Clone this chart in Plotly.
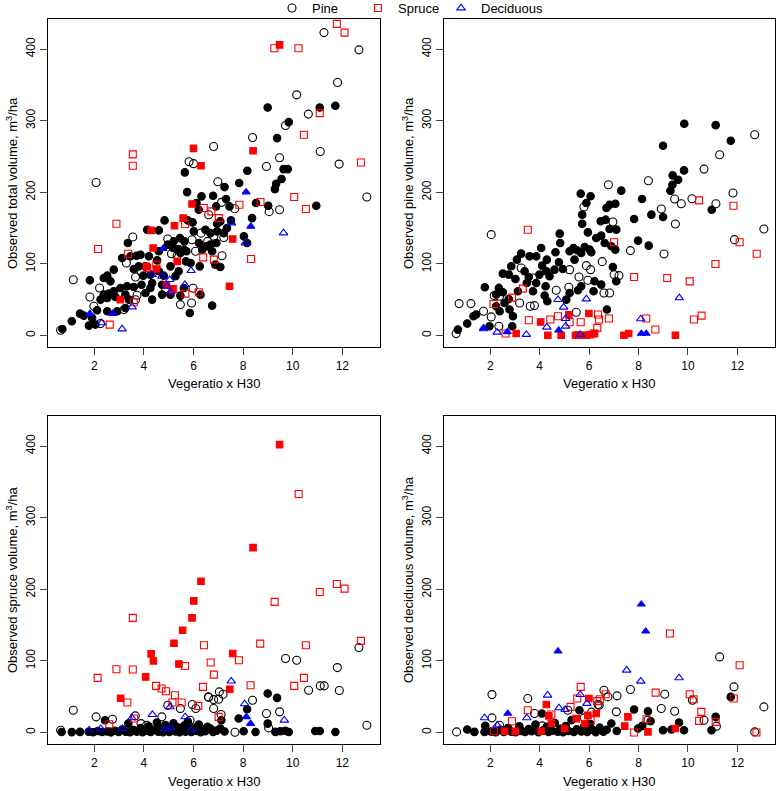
import plotly.graph_objects as go

# ---------------- DATA ----------------
# Top-left: observed total volume
tl_pine_filled = [(5.65,227.8),(7.25,207.3),(7.84,212.9),(5.74,200.3),(6.32,194.3),(6.79,195.2),(7.31,190.6),(6.12,185),(6.21,175.7),(6.91,180.3),(7.45,180.3),(8.52,185),(9.01,181.3),(8.36,164),(9.33,212),(4.83,160.8),(5.77,160.8),(5.96,158),(6.95,156),(7.35,150),(4.13,147.8),(4.6,146.9),(6.01,145.5),(6.48,147.8),(6.68,143),(6.95,145.5),(7.22,143),(5.45,136),(5.63,131.5),(6.22,129.2),(6.68,126.9),(6.92,129.2),(8.03,138.5),(8.16,129.2),(3.35,129.2),(3.86,112.9),(3.7,111.5),(3.12,108.3),(3.46,110.6),(4.2,110.6),(4.6,117.6),(4.96,126.9),(5.18,122.2),(5.4,120.8),(5.47,115.3),(5.71,117.6),(5.69,103.6),(5.88,101.3),(6.25,96.6),(6.75,117.6),(6.88,99),(7.08,95.7),(4.53,105),(4.06,96.6),(3.79,96.6),(2.78,92),(2.52,83.6),(2.38,80.4),(2.65,75.7),(1.82,77.1),(3.59,92.9),(3.97,83.6),(4.26,85),(4.6,89.7),(5.07,96.6),(5.4,89.7),(5.27,82.7),(4.8,83.6),(4.73,71),(4.33,73.4),(3.9,71),(3.59,67.8),(3.32,68.8),(3.05,66.4),(2.78,61.8),(2.58,58.5),(2.38,57.1),(2.25,50.2),(2.52,52.5),(2.85,53.9),(3.25,57.1),(3.39,50.2),(4.06,59.4),(4.33,50.2),(4.73,57.1),(5.07,57.1),(5.47,55.7),(6.28,57.1),(6.75,41.8),(5.85,31.5),(4.26,66.4),(2.11,35.3),(2.52,33.9),(2.92,33.9),(3.25,38.5),(1.91,24.6),(1.57,27.8),(1.78,13.9),(2.04,15.3),(5.61,66.4),(5.61,119.9),(5.2,131.5),(6.35,119.9),(6.52,124.5),(7.08,159.4),(7.51,160.8),(1.42,30.6),(1.09,19.9),(0.71,9.2),(8.99,318.5),(11.09,318.5),(11.72,320.8),(9.84,298),(9.37,275.7),(9.63,232.4),(9.8,232.4),(8.17,230.1),(9.55,218.5),(9.28,204.5),(10.95,181.3)]
tl_pine_open = [(2.07,213.8),(6.98,214.8),(7.13,186),(6.61,168.7),(7.66,177),(9.05,173),(3.55,137.6),(4.96,134.8),(5.94,133.8),(6.08,117.6),(6.3,143),(6.82,138.5),(7.22,137),(7.15,111.5),(3.29,101.3),(3.89,88.7),(3.66,81.8),(5.11,114.3),(5.34,111.5),(2.21,66.4),(1.82,53.9),(1.98,40.8),(3.72,56.2),(5.47,43.2),(5.92,45.5),(5.98,66),(4.87,65.5),(3.19,36.2),(3.66,50),(2.25,16.7),(6.57,131.5),(1.15,78),(0.64,7.4),(5.82,242.7),(6.0,240),(11.26,423),(12.67,398.9),(11.81,353.3),(10.16,336.1),(10.63,309.2),(9.71,293.3),(8.38,276.6),(6.81,264),(9.47,248.2),(11.11,257),(8.94,236),(11.87,239.4),(12.99,193.4),(9.47,175.7)]
tl_spruce_filled = [(5.94,183.6),(5.58,164),(5.23,153.4),(4.29,146.9),(4.37,122.2),(7.58,134.8),(5.34,103.6),(4.1,96.6),(4.5,92.9),(4.91,71),(7.45,68.8),(3.05,50.2),(5.14,64.1),(6.0,261.3),(6.3,237),(9.47,405.9),(8.4,258)]
tl_spruce_open = [(2.89,156.2),(2.15,120.8),(3.36,114.3),(6.41,178),(6.72,173.4),(7.02,164),(7.85,182.7),(8.7,186.4),(5.66,155.7),(6.39,109.2),(6.82,106),(8.32,106.9),(4.5,99),(4.13,94.3),(6.21,60.4),(5.67,58.5),(5.18,65),(3.59,46.4),(2.62,15.3),(3.55,253),(3.55,237),(11.78,435.2),(12.09,423),(9.26,401.2),(10.23,401.2),(11.09,310.5),(10.45,280.3),(12.75,241.7),(10.06,193.4),(10.53,176.6)]
tl_dec_filled = [(8.12,200.3),(8.31,152.4),(4.77,121.3),(2.74,30.6),(1.82,30.6)]
tl_dec_open = [(7.53,157.1),(8.09,129.2),(5.9,90.6),(4.33,85),(4.73,82.7),(5.04,78),(5.65,71),(4.93,68.8),(5.07,60.4),(3.52,39.9),(2.29,17.6),(3.12,9.2),(9.63,143.2)]

# Top-right: observed pine volume
tr_pine_filled = [(5.66,198.1),(6.06,194.4),(5.89,185),(6.7,178.1),(6.83,182.7),(7.06,184.1),(7.3,202.3),(8.14,190.6),(7.82,162.7),(8.52,168.8),(8.99,165.5),(5.72,168.8),(5.72,156.2),(6.47,159.5),(6.67,161.8),(6.83,148.8),(7.1,147.9),(5.95,144.1),(6.29,136.2),(6.49,139.5),(6.63,129.3),(6.9,124.6),(7.06,120),(7.98,132.5),(8.41,125.5),(4.81,142.3),(4.83,129.3),(5.37,122.3),(5.51,119),(5.21,117.6),(5.68,115.3),(5.82,123.7),(6.09,116.2),(4.06,122.3),(4.29,106),(4.64,116.2),(4.78,102.3),(4.94,93),(4.6,92),(4.4,82.8),(4.1,97.6),(3.99,85.1),(3.86,73.4),(4.24,68.8),(3.25,114.4),(3.59,110.6),(3.86,110.6),(3.08,106),(2.85,96.7),(2.51,86.5),(2.75,85.1),(3.02,79),(3.39,89.7),(3.56,81.8),(3.48,73.4),(3.12,61.8),(3.73,61.8),(4.2,55.8),(1.78,67.4),(2.35,66.5),(2.24,57.2),(2.51,60.4),(2.75,51.1),(2.58,45.5),(2.24,40.9),(2.38,33.9),(1.43,29.3),(1.32,27),(2.78,36.3),(2.92,27),(2.89,13),(1.97,13),(4.31,47.9),(5.08,50.2),(5.21,59.5),(5.55,63.2),(5.68,68.8),(6.22,75.8),(6.18,61.8),(6.49,71.1),(6.96,95.8),(7.1,75.8),(6.72,36.3),(6.02,120),(5.41,106),(4.27,89.7),(0.69,8.3),(1.07,16.7),(9.85,295.7),(11.12,293.8),(11.73,272),(8.99,265),(9.84,230.6),(9.38,223.6),(9.6,217.6),(9.37,210.6),(9.29,202.2),(10.96,175.7)]
tr_pine_open = [(6.78,210.6),(8.4,216.2),(8.92,176.7),(9.03,113.9),(7.67,118.6),(5.79,179.5),(6.96,158.5),(2.04,140.9),(3.25,94.4),(1.22,44.6),(1.73,33.9),(2.35,13),(2.04,26),(3.19,45.5),(3.62,40.9),(3.79,41.8),(4.67,63.2),(5.18,67.4),(5.48,32.5),(5.59,81.8),(5.89,97.6),(5.95,77.2),(6.53,103.2),(6.6,59.5),(6.83,59.5),(7.01,85.1),(7.21,83.7),(2.16,55.8),(2.38,54.8),(3.73,80.4),(5.21,92),(6.06,92),(0.62,2.7),(0.74,44.6),(12.7,280.3),(11.28,252.4),(10.65,232.4),(11.82,199),(9.46,190.6),(9.73,184.1),(10.16,191),(11.13,184.1),(9.49,155.7),(13.07,148.7),(11.88,133.9)]
tr_spruce_filled = [(3.05,2.8),(4.04,19),(4.33,0.4),(4.87,0.4),(5.18,28.8),(5.45,0.4),(5.55,0.6),(5.7,0.4),(5.89,0.4),(5.99,30.7),(6.05,1.2),(6.22,2.8),(7.41,0.4),(7.6,2.8),(9.49,0.4)]
tr_spruce_open = [(3.52,147.8),(7.01,130.2),(7.82,81.8),(9.16,80.4),(3.32,65.5),(2.88,53),(2.13,44.1),(3.56,21.4),(4.74,26.9),(4.43,22.3),(5.21,18.6),(5.66,18.6),(6.36,29.3),(6.4,22.3),(6.8,23.7),(6.33,10.7),(6.18,2.8),(2.62,2.8),(8.31,23.7),(8.68,8.4),(10.45,188.7),(11.84,181.3),(12.09,130.2),(12.78,114.3),(11.11,99.9),(10.07,75.7),(10.24,22.3),(10.55,27.8)]
tr_dec_filled = [(1.73,10.7),(2.69,5.1),(4.77,7.4),(8.11,2.8),(8.31,2.8)]
tr_dec_open = [(1.74,9.3),(2.28,4.6),(3.46,1.4),(4.74,50.2),(4.97,39.5),(5.89,51.1),(5.05,23.7),(4.29,11.6),(5.05,13),(5.64,1.4),(8.09,23.2),(9.65,52.5)]

# Bottom-left: observed spruce volume
bl_pine_filled = [(0.68,0.8),(1.09,0.6),(1.42,0.9),(1.77,1.2),(1.95,0.4),(2.14,2.1),(2.31,0.7),(2.43,17.2),(2.52,1.5),(2.67,0.3),(2.83,2.6),(2.98,0.9),(3.12,4.2),(3.27,1.1),(3.37,12.5),(3.44,0.5),(3.58,3.4),(3.71,1.3),(3.86,6.1),(3.94,0.6),(4.08,2.4),(4.19,8.8),(4.27,0.9),(4.41,3.6),(4.52,14.1),(4.58,1.2),(4.69,6.7),(4.77,0.4),(4.86,10.5),(4.93,2.8),(5.02,0.7),(5.11,5.4),(5.19,12.9),(5.27,1.6),(5.36,7.2),(5.44,0.5),(5.53,3.9),(5.62,9.6),(5.68,1.1),(5.77,15.2),(5.84,4.8),(5.91,0.8),(6.03,6.5),(6.12,2.2),(6.21,11.3),(6.29,0.6),(6.38,4.4),(6.47,1.7),(6.56,8.1),(6.68,5.6),(6.79,0.9),(6.93,2.7),(7.08,5.6),(7.12,17.2),(7.25,1.4),(7.82,19.6),(8.02,1.8),(8.16,32.6),(8.5,0.8),(8.99,54.4),(8.99,12.5),(9.3,0.9),(9.37,48.4),(9.5,1.9),(9.7,2.6),(9.84,0.7),(10.91,2.2),(11.09,2.2),(11.72,0.7)]
bl_pine_open = [(1.15,31.2),(2.07,21.9),(2.73,18.6),(3.65,23.3),(4.11,10.2),(4.72,21.9),(4.96,38.2),(5.47,33.5),(5.95,39.1),(6.09,33.5),(6.6,49.8),(5.86,17.2),(0.64,3.3),(3.88,12.5),(9.71,103.3),(10.16,101),(11.8,90.7),(12.67,118.6),(10.64,59.1),(11.11,65.2),(11.27,65.2),(11.88,58.6),(8.38,45.1),(8.94,26.5),(9.47,28.9),(9.03,6.5),(7.67,0.5),(12.99,10.2),(6.61,49.3),(6.81,46),(7.01,46.5),(7.19,53.5),(7.04,56.8),(6.81,33.5),(7.11,25.1)]
bl_spruce_filled = [(6.3,211.2),(6.01,183.8),(5.94,160.1),(5.56,142.8),(5.21,124.7),(4.29,109.8),(4.38,100),(5.41,95.8),(4.07,77.7),(3.06,47.9),(9.47,402),(8.4,258.2),(7.58,110.3),(7.46,60.5)]
bl_spruce_open = [(3.55,160.1),(2.89,88.4),(3.55,88),(2.13,76.3),(3.33,41.9),(4.49,65.2),(4.71,61.4),(4.89,57.7),(5.66,93),(5.25,52.1),(5.52,41.9),(6.42,121.9),(6.38,63.8),(6.19,37.2),(5.15,41.9),(3.6,19.6),(2.6,11.6),(10.24,333.1),(11.78,207.5),(12.09,201),(11.09,196.3),(9.27,182.4),(8.69,124.2),(10.53,121.9),(12.75,128),(6.69,97.7),(7.83,101),(6.82,80.9),(8.3,66.1),(10.45,76.3),(10.06,65.2),(7.01,21.9)]
bl_dec_filled = [(8.13,21.9),(8.3,12.5)]
bl_dec_open = [(1.79,3.3),(2.26,5.6),(3.51,20.5),(4.34,25.1),(5.05,35.8),(5.09,6.5),(5.66,21.9),(5.9,3.3),(4.85,4.7),(3.13,5.6),(7.52,71.7),(8.06,40),(9.66,17.2)]

# Bottom-right: observed deciduous volume
br_pine_filled = [(1.07,4.2),(1.36,0.9),(1.77,0.9),(1.8,9.3),(2.04,1.3),(2.22,0.5),(2.41,3.8),(2.55,0.9),(2.72,6.2),(2.86,1.1),(3.03,0.6),(3.18,8.7),(3.25,2.3),(3.41,0.8),(3.56,4.9),(3.68,1.7),(3.83,11.2),(3.95,0.6),(4.09,26.5),(4.14,3.1),(4.28,7.9),(4.36,0.8),(4.49,2.6),(4.61,13.4),(4.73,1.2),(4.84,5.3),(4.95,0.5),(5.06,9.1),(5.17,2.2),(5.29,17.4),(5.38,0.7),(5.5,4.6),(5.61,31.2),(5.69,1.4),(5.8,8.3),(5.92,0.9),(6.04,12.1),(6.15,3.5),(6.27,0.6),(6.43,6.8),(6.58,1.3),(6.71,3.9),(6.9,12.6),(7.12,2.1),(7.82,32.1),(7.98,5.6),(8.15,9.3),(8.38,29.8),(8.49,15.8),(8.99,3.3),(9.33,4.2),(9.64,14),(9.84,3.3),(10.95,3.3),(11.12,21.9),(11.73,49.8)]
br_pine_open = [(0.64,0.9),(2.07,53),(2.07,20.5),(2.38,10.2),(3.52,47.5),(3.79,26.5),(4.1,9.3),(5.14,31.2),(6.36,39.1),(6.1,28.5),(5.8,20.5),(11.28,105.6),(11.86,63.8),(13.07,35.8),(12.7,0.9),(6.6,59.1),(6.76,49.8),(7.13,51.2),(7.67,60),(9.06,53.5),(8.92,33.5),(9.46,29.8),(10.18,45.1),(10.65,17.2),(11.15,8.9),(7.1,28.9),(8.38,17.2),(6.41,38.2)]
br_spruce_filled = [(4.27,39.1),(4.37,23.3),(5.99,47.5),(5.95,24.2),(6.29,26.5),(3.01,1.9),(2.58,1.9),(4.06,1.9),(4.47,12.6),(5.01,5.6),(5.48,19.5),(5.82,12.6),(7.57,21.9),(7.44,8.9),(8.38,0.9),(9.49,5.6)]
br_spruce_open = [(5.66,63.8),(3.52,31.2),(2.88,15.8),(2.15,1.9),(4.47,25.1),(5.25,35.8),(5.52,47.5),(6.33,43.8),(6.06,17.2),(9.27,138.2),(12.09,94),(8.69,55.8),(10.07,53.5),(10.23,46.5),(6.43,46.5),(6.67,53.5),(10.54,28.9),(10.45,16.3),(11.12,14.9),(11.85,47.5),(12.77,0),(8.32,18.6),(7.82,0)]
br_dec_filled = [(4.74,113.5),(2.71,26.5),(8.11,179.1),(8.29,141.4)]
br_dec_open = [(1.77,20.5),(2.28,10.2),(3.48,20.5),(4.32,52.1),(4.78,34.4),(5.03,32.1),(5.64,53),(5.91,40.5),(7.52,87),(8.09,71.6),(9.64,76.3)]

x_ticks = [2, 4, 6, 8, 10, 12]
y_ticks = [0, 100, 200, 300, 400]
x_title = "Vegeratio x H30"
y_titles = ["Observed total volume, m<sup>3</sup>/ha",
            "Observed pine volume, m<sup>3</sup>/ha",
            "Observed spruce volume, m<sup>3</sup>/ha",
            "Observed deciduous volume, m<sup>3</sup>/ha"]
legend_names = ["Pine", "Spruce", "Deciduous"]

# ---------------- FIGURE ----------------
W, H = 778, 791
# plot boxes in pixels: (left, right, top, bottom)
boxes = [(48, 380, 19, 347), (444, 775, 19, 347),
         (48, 380, 416, 744), (444, 775, 416, 744)]

panels = [
    (tl_pine_open, tl_pine_filled, tl_spruce_open, tl_spruce_filled, tl_dec_open, tl_dec_filled),
    (tr_pine_open, tr_pine_filled, tr_spruce_open, tr_spruce_filled, tr_dec_open, tr_dec_filled),
    (bl_pine_open, bl_pine_filled, bl_spruce_open, bl_spruce_filled, bl_dec_open, bl_dec_filled),
    (br_pine_open, br_pine_filled, br_spruce_open, br_spruce_filled, br_dec_open, br_dec_filled),
]

styles = [
    ("circle-open", "black", 8, 0),
    ("circle", "black", 7.5, 0),
    ("square-open", "#FF0000", 7, 1),
    ("square", "#FF0000", 6.5, 1),
    ("triangle-up-open", "#0000FF", 7.5, 2),
    ("triangle-up", "#0000FF", 7, 2),
]
legend_ids = ["legend", "legend2", "legend3"]
legend_symbol_px = [292, 378, 461]   # horizontal position of each legend key

fig = go.Figure()
layout = dict(width=W, height=H, margin=dict(l=0, r=0, t=0, b=0, autoexpand=False),
              paper_bgcolor="white", plot_bgcolor="white",
              font=dict(family="Liberation Sans, Arial, sans-serif", color="black"))

for i, (box, series) in enumerate(zip(boxes, panels)):
    l, r, t, b = box
    ax = "" if i == 0 else str(i + 1)
    layout["xaxis" + ax] = dict(domain=[l / W, r / W], range=[0.13, 13.52], anchor="y" + ax,
                                tickvals=x_ticks, ticks="outside", ticklen=7, tickwidth=1,
                                showline=True, mirror=True, linecolor="black", linewidth=1.2,
                                showgrid=False, zeroline=False, tickfont=dict(size=12))
    layout["yaxis" + ax] = dict(domain=[1 - b / H, 1 - t / H], range=[-16, 442], anchor="x" + ax,
                                tickvals=y_ticks, ticks="outside", ticklen=7, tickwidth=1,
                                tickangle=-90,
                                showline=True, mirror=True, linecolor="black", linewidth=1.2,
                                showgrid=False, zeroline=False, tickfont=dict(size=12))
    for pts, (sym, col, size, li) in zip(series, styles):
        xs = [p[0] for p in pts]
        ys = [p[1] for p in pts]
        show = (i == 0 and sym.endswith("-open"))
        fig.add_trace(go.Scatter(
            x=xs, y=ys, mode="markers", xaxis="x" + ax, yaxis="y" + ax,
            name=legend_names[li], showlegend=show, legend=legend_ids[li],
            marker=dict(symbol=sym, color=col, size=size,
                        line=dict(color=col, width=1.1))))

annotations = []
for i, (l, r, t, b) in enumerate(boxes):
    annotations.append(dict(text=x_title, xref="paper", yref="paper",
                            x=(l + r) / 2 / W, y=1 - (b + 37) / H,
                            showarrow=False, font=dict(size=13),
                            xanchor="center", yanchor="middle"))
    annotations.append(dict(text=y_titles[i], xref="paper", yref="paper",
                            x=(l - 36) / W, y=1 - (t + b) / 2 / H, textangle=-90,
                            showarrow=False, font=dict(size=13),
                            xanchor="center", yanchor="middle"))
layout["annotations"] = annotations
for lid, sx in zip(legend_ids, legend_symbol_px):
    layout[lid] = dict(orientation="h", xref="container", yref="container",
                       x=(sx - 20) / W, y=1 - 8 / H, xanchor="left", yanchor="middle",
                       bgcolor="rgba(0,0,0,0)", font=dict(size=13),
                       itemwidth=30, tracegroupgap=0)
layout["showlegend"] = True
fig.update_layout(**layout)
fig.write_html("out.html", config={"displayModeBar": False},
               post_script="document.body.style.margin='0px';")
